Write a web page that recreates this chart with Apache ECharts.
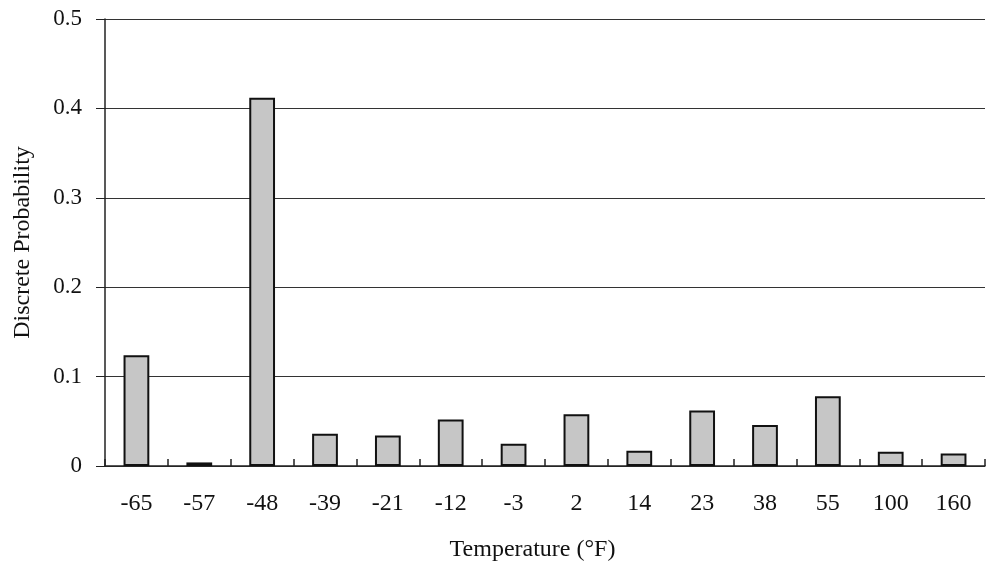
<!DOCTYPE html>
<html lang="en">
<head>
<meta charset="UTF-8">
<title>Discrete Probability</title>
<script src="https://cdn.jsdelivr.net/npm/echarts@6/dist/echarts.min.js"></script>
<style>
  html, body { margin: 0; padding: 0; background: #fff; }
  #main { width: 987px; height: 565px; }
</style>
</head>
<body>
<div id="main"></div>
<script type="text/javascript">
// temperature bins (°F)
var temps = ['-65', '-57', '-48', '-39', '-21', '-12', '-3', '2', '14', '23', '38', '55', '100', '160'];
// discrete probability for each bin
var probs = [0.124, 0.004, 0.412, 0.036, 0.034, 0.052, 0.025, 0.058, 0.017, 0.062, 0.046, 0.078, 0.016, 0.014];
var yTicks = [0, 0.1, 0.2, 0.3, 0.4, 0.5];

var font = '"Liberation Serif", "DejaVu Serif", serif';
var myChart = echarts.init(document.getElementById('main'));
var option = {
    backgroundColor: '#fff',
    animation: false,
    grid: { left: 105, right: 2, top: 19, bottom: 99, outerBoundsMode: 'none', containLabel: false },
    xAxis: {
        type: 'category',
        data: temps,
        name: 'Temperature (°F)',
        nameLocation: 'middle',
        nameGap: 72,
        nameTextStyle: { fontFamily: font, fontSize: 24, color: '#111', padding: [0, 25, 0, 0] },
        axisLine: { lineStyle: { color: '#222', width: 1.5 } },
        axisTick: { show: true, inside: true, length: 7, lineStyle: { color: '#222', width: 1.5 } },
        axisLabel: { fontFamily: font, fontSize: 24, color: '#111', margin: 26 }
    },
    yAxis: {
        type: 'value',
        min: 0,
        max: 0.5,
        interval: 0.1,
        name: 'Discrete Probability',
        nameLocation: 'middle',
        nameGap: 70,
        nameTextStyle: { fontFamily: font, fontSize: 24, color: '#111' },
        axisLine: { show: true, lineStyle: { color: '#222', width: 1.5 } },
        axisTick: { show: true, length: 9, lineStyle: { color: '#222' } },
        axisLabel: {
            fontFamily: font, fontSize: 23, color: '#111', margin: 23,
            formatter: function (v) {
                var t = yTicks.filter(function (y) { return Math.abs(y - v) < 1e-9; })[0];
                return t === 0 ? '0' : String(t);
            }
        },
        splitLine: { show: true, lineStyle: { color: '#333', width: 1 } }
    },
    series: [{
        type: 'bar',
        data: probs,
        barWidth: '41%',
        itemStyle: { color: '#c6c6c6', borderColor: '#111', borderWidth: 2 }
    }]
};
myChart.setOption(option);
</script>
</body>
</html>
